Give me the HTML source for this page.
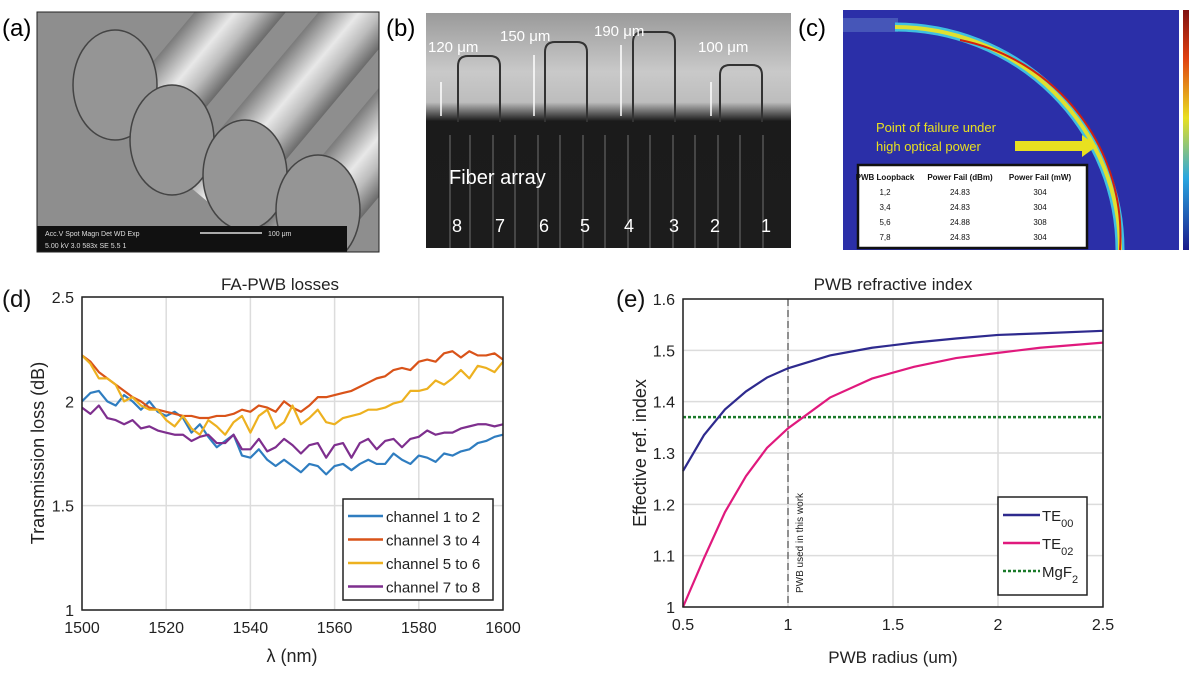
<!DOCTYPE html>
<html><head><meta charset="utf-8">
<style>
body{margin:0;width:1200px;height:674px;background:#fff;overflow:hidden;font-family:"Liberation Sans","DejaVu Sans",sans-serif;}
#root{position:relative;width:1200px;height:674px;}
.abs{position:absolute;}
</style></head>
<body><div id="root">

<svg class="abs" style="left:0;top:0" width="1200" height="674" viewBox="0 0 1200 674">
 <defs>
  <linearGradient id="cyl" x1="0" y1="0" x2="1" y2="0">
   <stop offset="0" stop-color="#7a7a7a"/><stop offset="0.45" stop-color="#e8e8e8"/><stop offset="0.7" stop-color="#bcbcbc"/><stop offset="1" stop-color="#6a6a6a"/>
  </linearGradient>
  <linearGradient id="bgB" x1="0" y1="0" x2="0" y2="1">
   <stop offset="0" stop-color="#9a9a9a"/><stop offset="0.25" stop-color="#c9c9c9"/><stop offset="0.38" stop-color="#bdbdbd"/><stop offset="0.46" stop-color="#1b1b1b"/><stop offset="1" stop-color="#1c1c1c"/>
  </linearGradient>
  <linearGradient id="cbar" x1="0" y1="1" x2="0" y2="0">
   <stop offset="0" stop-color="#1a1a8c"/><stop offset="0.3" stop-color="#2aa7e0"/><stop offset="0.55" stop-color="#e8e020"/><stop offset="0.8" stop-color="#e04010"/><stop offset="1" stop-color="#801010"/>
  </linearGradient>
  <clipPath id="clipA"><rect x="37" y="12" width="342" height="240"/></clipPath>
 </defs>

 <!-- panel a -->
 <g>
  <text x="2" y="36" font-size="24">(a)</text>
  <g clip-path="url(#clipA)">
   <rect x="37" y="12" width="342" height="240" fill="#8e8e8e"/>
   <g transform="rotate(40 200 130)">
    <rect x="120" y="-150" width="70" height="280" fill="url(#cyl)"/>
    <rect x="215" y="-120" width="70" height="300" fill="url(#cyl)"/>
    <rect x="310" y="-100" width="70" height="320" fill="url(#cyl)"/>
   </g>
   <ellipse cx="115" cy="85" rx="42" ry="55" fill="#959595" stroke="#444" stroke-width="1.5"/>
   <ellipse cx="172" cy="140" rx="42" ry="55" fill="#959595" stroke="#444" stroke-width="1.5"/>
   <ellipse cx="245" cy="175" rx="42" ry="55" fill="#959595" stroke="#444" stroke-width="1.5"/>
   <ellipse cx="318" cy="210" rx="42" ry="55" fill="#959595" stroke="#444" stroke-width="1.5"/>
   <rect x="37" y="226" width="310" height="26" fill="#111"/>
   <text x="45" y="236" font-size="7" fill="#ddd">Acc.V  Spot Magn   Det  WD  Exp</text>
   <text x="45" y="248" font-size="7" fill="#ddd">5.00 kV 3.0  583x    SE  5.5   1</text>
   <line x1="200" y1="233" x2="262" y2="233" stroke="#ddd" stroke-width="1.5"/>
   <text x="268" y="236" font-size="7" fill="#ddd">100 μm</text>
  </g>
  <rect x="37" y="12" width="342" height="240" fill="none" stroke="#222" stroke-width="1"/>
 </g>

 <!-- panel b -->
 <g>
  <text x="386" y="36" font-size="24">(b)</text>
  <rect x="426" y="13" width="365" height="235" fill="url(#bgB)"/>
  <g stroke="#555" stroke-width="1.5">
   <line x1="450" y1="135" x2="450" y2="248"/><line x1="470" y1="135" x2="470" y2="248"/><line x1="493" y1="135" x2="493" y2="248"/><line x1="515" y1="135" x2="515" y2="248"/><line x1="538" y1="135" x2="538" y2="248"/><line x1="560" y1="135" x2="560" y2="248"/><line x1="583" y1="135" x2="583" y2="248"/><line x1="605" y1="135" x2="605" y2="248"/><line x1="628" y1="135" x2="628" y2="248"/><line x1="650" y1="135" x2="650" y2="248"/><line x1="673" y1="135" x2="673" y2="248"/><line x1="695" y1="135" x2="695" y2="248"/><line x1="718" y1="135" x2="718" y2="248"/><line x1="740" y1="135" x2="740" y2="248"/><line x1="763" y1="135" x2="763" y2="248"/>
  </g>
  <g fill="none" stroke="#333" stroke-width="2">
   <path d="M458 122 V66 q0 -10 10 -10 h22 q10 0 10 10 V122"/>
   <path d="M545 122 V52 q0 -10 10 -10 h22 q10 0 10 10 V122"/>
   <path d="M633 122 V42 q0 -10 10 -10 h22 q10 0 10 10 V122"/>
   <path d="M720 122 V75 q0 -10 10 -10 h22 q10 0 10 10 V122"/>
  </g>
  <g stroke="#fff" stroke-width="1.5" fill="#fff">
   <line x1="441" y1="82" x2="441" y2="116"/><line x1="534" y1="55" x2="534" y2="116"/><line x1="621" y1="45" x2="621" y2="116"/><line x1="711" y1="82" x2="711" y2="116"/>
  </g>
  <g fill="#fff" font-size="15">
   <text x="428" y="52">120 μm</text><text x="500" y="41">150 μm</text><text x="594" y="36">190 μm</text><text x="698" y="52">100 μm</text>
   <text x="449" y="184" font-size="20">Fiber array</text>
   <text x="452" y="232" font-size="18">8</text><text x="495" y="232" font-size="18">7</text><text x="539" y="232" font-size="18">6</text><text x="580" y="232" font-size="18">5</text><text x="624" y="232" font-size="18">4</text><text x="669" y="232" font-size="18">3</text><text x="710" y="232" font-size="18">2</text><text x="761" y="232" font-size="18">1</text>
  </g>
 </g>

 <!-- panel c -->
 <g>
  <text x="798" y="36" font-size="24">(c)</text>
  <rect x="843" y="10" width="336" height="240" fill="#2b2fa8"/>
  <rect x="843" y="18" width="55" height="14" fill="#4656b8"/>
  <path d="M895 27 A225 223 0 0 1 1120 250" fill="none" stroke="#40c0e0" stroke-width="9"/>
  <path d="M895 27 A225 223 0 0 1 1120 250" fill="none" stroke="#e0e030" stroke-width="4"/>
  <path d="M960 40 A200 200 0 0 1 1120 250" fill="none" stroke="#d02010" stroke-width="2"/>
  <rect x="1183" y="10" width="6" height="240" fill="url(#cbar)"/>
  <text x="876" y="132" font-size="13" fill="#e8e020">Point of failure under</text>
  <text x="876" y="151" font-size="13" fill="#e8e020">high optical power</text>
  <polygon points="1015,141 1082,141 1082,135 1097,146 1082,157 1082,151 1015,151" fill="#e8e020"/>
  <rect x="858" y="165" width="229" height="83" fill="#fff" stroke="#111" stroke-width="2.5"/>
  <g font-size="8" fill="#111" text-anchor="middle">
   <text x="885" y="180" font-weight="bold">PWB Loopback</text><text x="960" y="180" font-weight="bold">Power Fail (dBm)</text><text x="1040" y="180" font-weight="bold">Power Fail (mW)</text>
   <text x="885" y="195">1,2</text><text x="960" y="195">24.83</text><text x="1040" y="195">304</text>
   <text x="885" y="210">3,4</text><text x="960" y="210">24.83</text><text x="1040" y="210">304</text>
   <text x="885" y="225">5,6</text><text x="960" y="225">24.88</text><text x="1040" y="225">308</text>
   <text x="885" y="240">7,8</text><text x="960" y="240">24.83</text><text x="1040" y="240">304</text>
  </g>
 </g>

 <g id="chartD"></g>
 <g id="chartE"></g>
</svg>

<script>
// ---- chart d data ----
const dWavelengths = [];
for (let w = 1500; w <= 1600; w += 2) dWavelengths.push(w);
const dXTicks = [1500,1520,1540,1560,1580,1600];
const dYTicks = [1,1.5,2,2.5];
const dYTickLabels = ['1','1.5','2','2.5'];
const dSeriesNames = ['channel 1 to 2','channel 3 to 4','channel 5 to 6','channel 7 to 8'];
const dCh12 = [2.00,2.04,2.05,2.00,1.98,2.03,2.00,1.96,2.00,1.95,1.93,1.95,1.92,1.85,1.89,1.83,1.78,1.81,1.84,1.74,1.73,1.77,1.72,1.69,1.72,1.69,1.66,1.70,1.69,1.65,1.69,1.70,1.67,1.70,1.72,1.70,1.70,1.75,1.72,1.70,1.74,1.73,1.71,1.75,1.74,1.76,1.77,1.80,1.81,1.83,1.84];
const dCh34 = [2.22,2.19,2.14,2.11,2.08,2.05,2.02,2.00,1.97,1.96,1.95,1.94,1.93,1.93,1.92,1.92,1.93,1.93,1.94,1.96,1.95,1.98,1.97,1.95,2.00,1.97,1.95,1.98,2.02,2.02,2.03,2.04,2.05,2.07,2.09,2.11,2.12,2.15,2.16,2.15,2.19,2.20,2.19,2.23,2.24,2.21,2.24,2.22,2.22,2.23,2.20];
const dCh56 = [2.22,2.18,2.11,2.11,2.08,2.00,2.02,1.98,1.96,1.96,1.91,1.88,1.93,1.87,1.84,1.91,1.88,1.84,1.90,1.93,1.85,1.93,1.96,1.87,1.90,1.98,1.89,1.92,1.96,1.90,1.89,1.92,1.93,1.94,1.96,1.96,1.97,1.99,2.00,2.05,2.05,2.06,2.10,2.08,2.11,2.15,2.11,2.17,2.16,2.14,2.19];
const dCh78 = [1.97,1.94,1.98,1.92,1.91,1.89,1.91,1.87,1.88,1.86,1.85,1.84,1.84,1.81,1.83,1.84,1.80,1.80,1.84,1.77,1.77,1.82,1.76,1.78,1.82,1.79,1.75,1.79,1.80,1.73,1.79,1.80,1.73,1.80,1.82,1.77,1.81,1.82,1.78,1.82,1.83,1.86,1.84,1.85,1.85,1.87,1.88,1.89,1.89,1.88,1.89];
const dColors = ['#2f7dc0','#d95319','#edb120','#7e2f8e'];

// ---- chart e data ----
const eRadius = [0.5,0.6,0.7,0.8,0.9,1.0,1.2,1.4,1.6,1.8,2.0,2.2,2.5];
const eTE00 = [1.265,1.335,1.385,1.42,1.447,1.465,1.49,1.505,1.515,1.523,1.53,1.533,1.538];
const eTE02 = [1.0,1.095,1.185,1.255,1.31,1.348,1.408,1.445,1.468,1.485,1.495,1.505,1.515];
const eMgF2 = 1.37;
const eUsedRadius = 1.0;
const eXTicks = [0.5,1,1.5,2,2.5];
const eXTickLabels = ['0.5','1','1.5','2','2.5'];
const eYTicks = [1,1.1,1.2,1.3,1.4,1.5,1.6];
const eYTickLabels = ['1','1.1','1.2','1.3','1.4','1.5','1.6'];

const NS='http://www.w3.org/2000/svg';
function mk(parent, tag, attrs, text){
  const e=document.createElementNS(NS,tag);
  for(const k in attrs) e.setAttribute(k,attrs[k]);
  if(text!==undefined) e.textContent=text;
  parent.appendChild(e); return e;
}

// chart d
(function(){
  const g=document.getElementById('chartD');
  const X0=82,X1=503,Y0=610,Y1=297;
  const xs=v=>X0+(v-1500)/(100)*(X1-X0);
  const ys=v=>Y0-(v-1)/(1.5)*(Y0-Y1);
  mk(g,'rect',{x:X0,y:Y1,width:X1-X0,height:Y0-Y1,fill:'#fff'});
  dXTicks.forEach(t=>{
    const l=mk(g,'line',{x1:xs(t),x2:xs(t),y1:Y1,y2:Y0,stroke:'#dcdcdc','stroke-width':1.5});
    
    
    const tx=mk(g,'text',{x:xs(t),y:Y0+23,'font-size':16,'text-anchor':'middle',fill:'#222'},String(t));
    
    
  });
  dYTicks.forEach((t,i)=>{
    const l=mk(g,'line',{x1:X0,x2:X1,y1:ys(t),y2:ys(t),stroke:'#dcdcdc','stroke-width':1.5});
    
    
    const tx=mk(g,'text',{x:X0-8,y:ys(t)+6,'font-size':16,'text-anchor':'end',fill:'#222'},dYTickLabels[i]);
    
    
  });
  [dCh12,dCh34,dCh56,dCh78].forEach((s,i)=>{
    const p=mk(g,'polyline',{points:s.map((v,j)=>xs(dWavelengths[j])+','+ys(v)).join(' '),fill:'none',stroke:dColors[i],'stroke-width':2.2,'stroke-linejoin':'round'});
    
    
  });
  mk(g,'rect',{x:X0,y:Y1,width:X1-X0,height:Y0-Y1,fill:'none',stroke:'#222','stroke-width':1.5});
  const lg=mk(g,'g',{});
  
  
  mk(lg,'rect',{x:343,y:499,width:150,height:101,fill:'#fff',stroke:'#222','stroke-width':1.5});
  dSeriesNames.forEach((n,i)=>{
    const y=516+i*23.5;
    mk(lg,'line',{x1:348,x2:383,y1:y,y2:y,stroke:dColors[i],'stroke-width':2.5});
    const t=mk(lg,'text',{x:386,y:y+6,'font-size':15,fill:'#222'},n);
    
    
  });
  const tt=mk(g,'text',{x:280,y:290,'font-size':17,'text-anchor':'middle',fill:'#222'},'FA-PWB losses');
  
  
  const pl=mk(g,'text',{x:2,y:307,'font-size':24,fill:'#111'},'(d)');
  
  
  const yt=mk(g,'text',{x:0,y:0,'font-size':18,'text-anchor':'middle',fill:'#222',transform:'translate(44,453) rotate(-90)'},'Transmission loss (dB)');
  
  
  const xt=mk(g,'text',{x:292,y:662,'font-size':18,'text-anchor':'middle',fill:'#222'},'λ (nm)');
  
  
})();

// chart e
(function(){
  const g=document.getElementById('chartE');
  const X0=683,X1=1103,Y0=607,Y1=299;
  const xs=v=>X0+(v-0.5)/2*(X1-X0);
  const ys=v=>Y0-(v-1)/0.6*(Y0-Y1);
  eXTicks.forEach((t,i)=>{
    const l=mk(g,'line',{x1:xs(t),x2:xs(t),y1:Y1,y2:Y0,stroke:'#dcdcdc','stroke-width':1.5});
    
    
    const tx=mk(g,'text',{x:xs(t),y:Y0+23,'font-size':16,'text-anchor':'middle',fill:'#222'},eXTickLabels[i]);
    
    
  });
  eYTicks.forEach((t,i)=>{
    const l=mk(g,'line',{x1:X0,x2:X1,y1:ys(t),y2:ys(t),stroke:'#dcdcdc','stroke-width':1.5});
    
    
    const tx=mk(g,'text',{x:X0-8,y:ys(t)+6,'font-size':16,'text-anchor':'end',fill:'#222'},eYTickLabels[i]);
    
    
  });
  const vl=mk(g,'line',{x1:xs(eUsedRadius),x2:xs(eUsedRadius),y1:Y1,y2:Y0,stroke:'#333','stroke-width':1,'stroke-dasharray':'7,4'});
  
  
  const vt=mk(g,'text',{x:0,y:0,'font-size':10,fill:'#222',transform:`translate(${xs(eUsedRadius)+15},593) rotate(-90)`},'PWB used in this work');
  
  
  const mg=mk(g,'line',{x1:X0,x2:X1,y1:ys(eMgF2),y2:ys(eMgF2),stroke:'#1a7a2a','stroke-width':2.5,'stroke-dasharray':'3,2'});
  
  
  const p1=mk(g,'polyline',{points:eRadius.map((r,j)=>xs(r)+','+ys(eTE00[j])).join(' '),fill:'none',stroke:'#2e2a8e','stroke-width':2.2});
  
  
  const p2=mk(g,'polyline',{points:eRadius.map((r,j)=>xs(r)+','+ys(eTE02[j])).join(' '),fill:'none',stroke:'#e0197d','stroke-width':2.2});
  
  
  mk(g,'rect',{x:X0,y:Y1,width:X1-X0,height:Y0-Y1,fill:'none',stroke:'#222','stroke-width':1.5});
  const lg=mk(g,'g',{});
  
  
  mk(lg,'rect',{x:998,y:497,width:89,height:98,fill:'#fff',stroke:'#222','stroke-width':1.5});
  const items=[['TE','00','#2e2a8e',''],['TE','02','#e0197d',''],['MgF','2','#1a7a2a','3,2']];
  items.forEach((it,i)=>{
    const y=515+i*28;
    mk(lg,'line',{x1:1003,x2:1040,y1:y,y2:y,stroke:it[2],'stroke-width':2.5,'stroke-dasharray':it[3]||'none'});
    const t=mk(lg,'text',{x:1042,y:y+6,'font-size':15,fill:'#222'});
    
    
    mk(t,'tspan',{},it[0]);
    mk(t,'tspan',{dy:6,'font-size':11},it[1]);
  });
  const tt=mk(g,'text',{x:893,y:290,'font-size':17,'text-anchor':'middle',fill:'#222'},'PWB refractive index');
  
  
  const pl=mk(g,'text',{x:616,y:307,'font-size':24,fill:'#111'},'(e)');
  
  
  const yt=mk(g,'text',{x:0,y:0,'font-size':18,'text-anchor':'middle',fill:'#222',transform:'translate(646,453) rotate(-90)'},'Effective ref. index');
  
  
  const xt=mk(g,'text',{x:893,y:663,'font-size':17,'text-anchor':'middle',fill:'#222'},'PWB radius (um)');
  
  
})();
</script>
</div></body></html>
